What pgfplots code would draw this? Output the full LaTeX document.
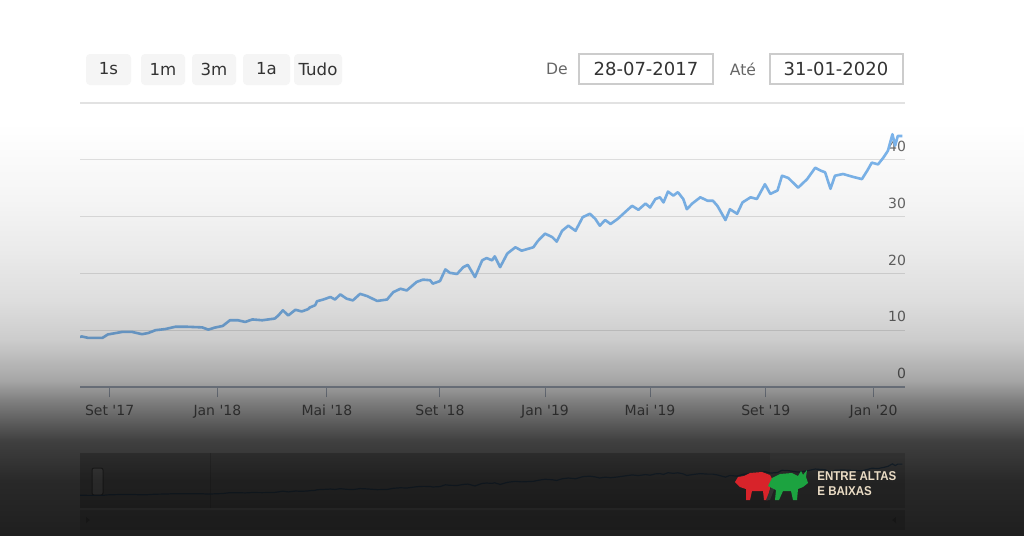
\documentclass[border=0pt]{standalone}
\usepackage{pgfplots}
\pgfplotsset{compat=1.18}
\usepackage{pgfplotstable}
\usepackage{fontspec}
\setmainfont{DejaVu Sans}
\newfontfamily\logofont[FakeStretch=0.9]{Liberation Sans}
\usetikzlibrary{fadings}

\definecolor{hcblue}{HTML}{7CB5EC}
\definecolor{hcgrid}{HTML}{E2E2E2}
\definecolor{hclabel}{HTML}{666666}
\definecolor{hctext}{HTML}{333333}
\definecolor{hcbtn}{HTML}{F5F5F5}
\definecolor{hcbox}{HTML}{CCCCCC}
\definecolor{hcaxis}{HTML}{AAB4C4}
\definecolor{bullred}{HTML}{D8232A}
\definecolor{bullgreen}{HTML}{1CA340}
\definecolor{logotext}{HTML}{EADCC5}

% dark overlay over the lower part of the screenshot
% (the path is mapped onto 25bp..75bp of the fading)
\pgfdeclareverticalshading{ovshade}{100bp}{%
  color(0bp)=(white!88!black);
  color(25bp)=(white!88!black);
  color(30.2bp)=(white!84!black);
  color(33.95bp)=(white!75!black);
  color(35.8bp)=(white!63!black);
  color(37.7bp)=(white!50!black);
  color(39.55bp)=(white!35!black);
  color(43.3bp)=(white!20!black);
  color(47bp)=(white!13!black);
  color(51.7bp)=(white!8!black);
  color(56.35bp)=(white!4!black);
  color(63.5bp)=(black);
  color(100bp)=(black)}
\pgfdeclarefading{darkoverlay}{\pgfuseshading{ovshade}}

% day 0 = 28-07-2017
\pgfplotstableread{
day value
0 8.8
2 8.9
9 8.65
25 8.65
31 9.25
47 9.7
58 9.7
69 9.3
76 9.5
84 10.0
95 10.2
106 10.6
120 10.6
136 10.5
143 10.1
150 10.45
159 10.75
167 11.75
176 11.75
184 11.45
192 11.9
203 11.75
217 12.05
221 12.6
226 13.5
232 12.6
240 13.6
247 13.3
254 13.7
256 14.0
262 14.4
264 15.1
271 15.4
279 15.85
284 15.4
290 16.3
297 15.55
304 15.25
312 16.4
320 16.0
331 15.15
342 15.4
349 16.7
357 17.3
364 17.0
375 18.5
382 18.9
390 18.8
393 18.2
401 18.65
407 20.7
412 20.1
420 19.9
427 21.1
432 21.5
440 19.35
448 22.3
453 22.7
459 22.3
462 23.0
468 21.1
476 23.5
485 24.6
492 24.0
505 24.6
510 25.7
518 27.0
526 26.4
531 25.6
537 27.5
544 28.4
552 27.5
560 29.9
568 30.5
574 29.6
579 28.4
585 29.4
591 28.7
599 29.6
609 31.05
615 31.9
622 31.2
630 32.3
635 31.6
641 33.1
646 33.4
650 32.5
655 34.4
661 33.7
666 34.3
672 33.1
676 31.3
682 32.3
691 33.4
699 32.8
705 32.8
710 31.9
719 29.4
724 31.3
732 30.5
738 32.5
747 33.4
754 33.1
763 35.7
769 34.0
777 34.6
782 37.2
789 36.8
800 35.1
810 36.6
819 38.6
825 38.1
830 37.8
836 34.9
841 37.2
850 37.5
861 37.0
871 36.6
877 38.1
882 39.5
889 39.2
895 40.4
900 41.6
905 44.5
908 42.5
911 44.2
916 44.2
}\pricedata

\begin{document}
\begin{tikzpicture}
% px scope: 1 px = 0.5pt, origin top left
\begin{scope}[x=0.5pt,y=-0.5pt]
  \path[use as bounding box, fill=white] (0,0) rectangle (1024,536);
  % range selector buttons
  \foreach \xa/\xb/\lbl in {86/131/1s, 141/185/1m, 192/236/3m, 243/290/1a, 294/342/Tudo}{
    \fill[hcbtn, rounded corners=2pt] (\xa,54) rectangle (\xb,85);
    \node[text=hctext, font=\fontsize{8.3}{10}\selectfont] at ({(\xa+\xb)/2},69) {\lbl};
  }
  % date inputs
  \node[text=hclabel, font=\fontsize{7.8}{10}\selectfont] at (557,69) {De};
  \draw[hcbox, fill=white, line width=0.6pt] (579,54) rectangle (713,84);
  \node[text=hctext, font=\fontsize{9}{11}\selectfont] at (646,69) {28-07-2017};
  \node[text=hclabel, font=\fontsize{7.8}{10}\selectfont] at (743,69) {Até};
  \draw[hcbox, fill=white, line width=0.6pt] (770,54) rectangle (903,84);
  \node[text=hctext, font=\fontsize{9}{11}\selectfont] at (836,69) {31-01-2020};
  % navigator and scrollbar
  \fill[gray!45] (80,453) rectangle (770,508);
  \fill[gray!25] (770,453) rectangle (905,508);
  \draw[gray!70, line width=0.4pt] (210,453) -- (210,508);
  \draw[gray, fill=white, rounded corners=1pt, line width=0.5pt] (92,468) rectangle (103,495);
  \fill[gray!30] (80,510) rectangle (905,530);
  \fill[gray!70] (86,517) -- (90,520) -- (86,523) -- cycle;
  \fill[gray!70] (896,517) -- (892,520) -- (896,523) -- cycle;
\end{scope}

\begin{axis}[
  at={(40pt,-193.5pt)}, anchor=south west,
  scale only axis, width=412.5pt, height=142pt,
  xmin=0, xmax=919, ymin=0, ymax=50,
  axis x line*=bottom, axis y line*=right,
  x axis line style={draw=hcaxis, line width=0.6pt, -},
  y axis line style={draw=none},
  xtick={33,153,275,401,518,635,764,884},
  xticklabels={Set \textquotesingle17, Jan \textquotesingle18, Mai \textquotesingle18, Set \textquotesingle18, Jan \textquotesingle19, Mai \textquotesingle19, Set \textquotesingle19, Jan \textquotesingle20},
  ytick={0,10,20,30,40,50},
  yticklabels={0,10,20,30,40,{}},
  ymajorgrids, grid style={hcgrid, line width=0.6pt},
  tick align=outside, major tick length=5pt,
  xtick style={draw=hcaxis, line width=0.5pt},
  ytick style={draw=none},
  /pgf/number format/assume math mode=true,
  tick label style={font=\fontsize{7}{8}\selectfont, text=hclabel},
  yticklabel style={anchor=south east, xshift=-1pt, yshift=0.5pt},
  xticklabel style={yshift=-0.5pt},
]
\addplot[hcblue, line width=1.3pt, line join=round] table[x=day, y=value] {\pricedata};
\end{axis}

% navigator series
\begin{axis}[
  at={(40pt,-251.5pt)}, anchor=south west,
  scale only axis, width=412.5pt, height=22pt,
  xmin=0, xmax=919, ymin=0, ymax=50, hide axis,
]
\addplot[hcblue!80!black, line width=0.6pt] table[x=day, y=value] {\pricedata};
\end{axis}

\begin{scope}[x=0.5pt,y=-0.5pt]
  \fill[black, path fading=darkoverlay] (0,0) rectangle (1024,536);
  % logo
  \fill[bullred] (735,482) -- (738,477) -- (744,476) -- (750,473) -- (762,472) -- (770,475)
    -- (773,481) -- (770,488) -- (768,500) -- (764,500) -- (763,491) -- (752,491)
    -- (750,500) -- (746,500) -- (746,489) -- (740,487) -- cycle;
  \fill[black!80] (766,500) -- (774,480) -- (777,482) -- (770,500) -- cycle;
  \fill[bullgreen] (768,486) -- (772,478) -- (780,474) -- (792,473) -- (798,476) -- (801,471)
    -- (803,475) -- (807,470) -- (806,477) -- (808,483) -- (803,487) -- (798,489)
    -- (797,500) -- (793,500) -- (791,491) -- (783,491) -- (779,500) -- (775,500)
    -- (776,490) -- cycle;
  \node[anchor=west, inner sep=0pt, text=logotext, font=\logofont\bfseries\fontsize{6.4}{7}\selectfont] at (817,476.5) {ENTRE ALTAS};
  \node[anchor=west, inner sep=0pt, text=logotext, font=\logofont\bfseries\fontsize{6.4}{7}\selectfont] at (817,491) {E BAIXAS};
\end{scope}
\end{tikzpicture}
\end{document}
